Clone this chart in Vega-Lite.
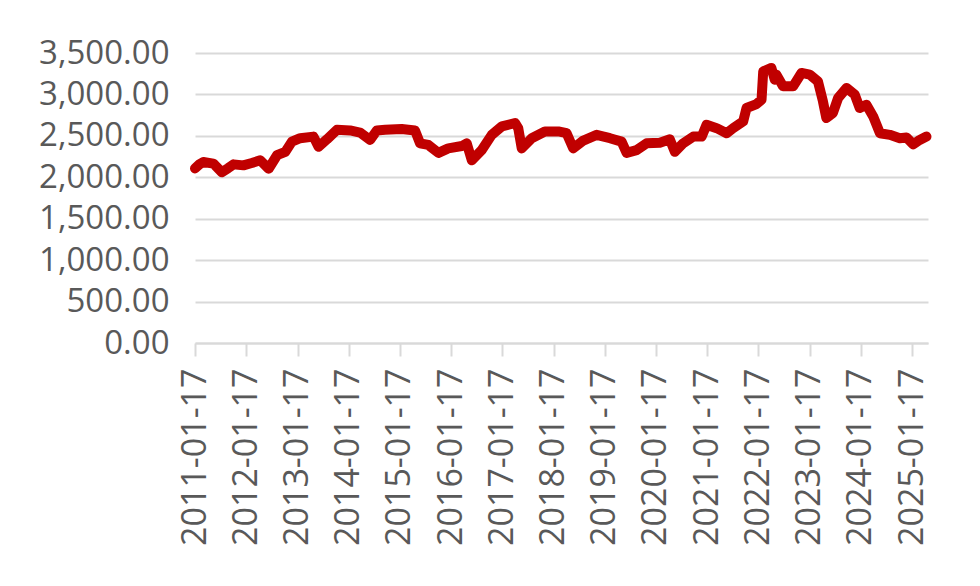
{
  "$schema": "https://vega.github.io/schema/vega-lite/v6.json",
  "width": 733,
  "height": 290,
  "autosize": "none",
  "padding": {"left": 195, "top": 53, "right": 52, "bottom": 243},
  "background": "white",
  "config": {"view": {"stroke": null}, "font": "Open Sans"},
  "data": {"values": [
    {"date": "2011-01-17", "value": 2107},
    {"date": "2011-02-20", "value": 2160},
    {"date": "2011-03-17", "value": 2184},
    {"date": "2011-05-28", "value": 2165},
    {"date": "2011-07-27", "value": 2062},
    {"date": "2011-09-10", "value": 2110},
    {"date": "2011-10-19", "value": 2156},
    {"date": "2011-12-28", "value": 2144},
    {"date": "2012-02-26", "value": 2172},
    {"date": "2012-04-26", "value": 2205},
    {"date": "2012-06-25", "value": 2103},
    {"date": "2012-08-24", "value": 2266},
    {"date": "2012-10-22", "value": 2307},
    {"date": "2012-12-08", "value": 2430},
    {"date": "2013-02-05", "value": 2472},
    {"date": "2013-05-11", "value": 2491},
    {"date": "2013-06-16", "value": 2368},
    {"date": "2013-08-15", "value": 2458},
    {"date": "2013-10-25", "value": 2573},
    {"date": "2014-01-27", "value": 2565},
    {"date": "2014-04-08", "value": 2540},
    {"date": "2014-06-19", "value": 2451},
    {"date": "2014-08-06", "value": 2565},
    {"date": "2014-10-04", "value": 2573},
    {"date": "2015-01-30", "value": 2582},
    {"date": "2015-05-05", "value": 2565},
    {"date": "2015-06-10", "value": 2410},
    {"date": "2015-08-08", "value": 2390},
    {"date": "2015-10-19", "value": 2295},
    {"date": "2015-12-28", "value": 2349},
    {"date": "2016-04-03", "value": 2377},
    {"date": "2016-05-08", "value": 2410},
    {"date": "2016-06-13", "value": 2205},
    {"date": "2016-08-23", "value": 2328},
    {"date": "2016-11-02", "value": 2512},
    {"date": "2017-01-13", "value": 2614},
    {"date": "2017-04-17", "value": 2655},
    {"date": "2017-05-10", "value": 2593},
    {"date": "2017-06-04", "value": 2349},
    {"date": "2017-08-14", "value": 2472},
    {"date": "2017-11-16", "value": 2553},
    {"date": "2018-02-20", "value": 2553},
    {"date": "2018-04-20", "value": 2532},
    {"date": "2018-06-06", "value": 2349},
    {"date": "2018-08-17", "value": 2443},
    {"date": "2018-11-20", "value": 2512},
    {"date": "2019-02-23", "value": 2472},
    {"date": "2019-05-17", "value": 2430},
    {"date": "2019-06-22", "value": 2295},
    {"date": "2019-09-01", "value": 2328},
    {"date": "2019-11-11", "value": 2410},
    {"date": "2020-02-14", "value": 2418},
    {"date": "2020-04-25", "value": 2458},
    {"date": "2020-05-31", "value": 2307},
    {"date": "2020-07-29", "value": 2410},
    {"date": "2020-10-09", "value": 2491},
    {"date": "2020-12-08", "value": 2491},
    {"date": "2021-01-12", "value": 2634},
    {"date": "2021-03-25", "value": 2593},
    {"date": "2021-06-04", "value": 2532},
    {"date": "2021-07-21", "value": 2593},
    {"date": "2021-09-30", "value": 2674},
    {"date": "2021-10-24", "value": 2836},
    {"date": "2022-01-03", "value": 2884},
    {"date": "2022-02-08", "value": 2937},
    {"date": "2022-02-20", "value": 3279},
    {"date": "2022-04-19", "value": 3320},
    {"date": "2022-05-13", "value": 3178},
    {"date": "2022-05-25", "value": 3239},
    {"date": "2022-07-11", "value": 3100},
    {"date": "2022-09-21", "value": 3098},
    {"date": "2022-11-20", "value": 3259},
    {"date": "2023-01-18", "value": 3239},
    {"date": "2023-03-17", "value": 3158},
    {"date": "2023-04-22", "value": 2916},
    {"date": "2023-05-16", "value": 2715},
    {"date": "2023-07-02", "value": 2776},
    {"date": "2023-08-08", "value": 2957},
    {"date": "2023-10-07", "value": 3078},
    {"date": "2023-12-05", "value": 2997},
    {"date": "2024-01-09", "value": 2836},
    {"date": "2024-02-26", "value": 2876},
    {"date": "2024-04-14", "value": 2735},
    {"date": "2024-06-01", "value": 2532},
    {"date": "2024-08-11", "value": 2512},
    {"date": "2024-10-21", "value": 2472},
    {"date": "2024-12-08", "value": 2480},
    {"date": "2025-01-24", "value": 2398},
    {"date": "2025-03-12", "value": 2451},
    {"date": "2025-04-29", "value": 2491}
  ]},
  "mark": {"type": "line", "color": "#C00000", "strokeWidth": 10, "strokeCap": "round", "strokeJoin": "round"},
  "encoding": {
    "x": {
      "field": "date", "type": "temporal",
      "scale": {"type": "utc", "nice": false, "domain": [{"year": 2011, "month": 1, "date": 17, "utc": true}, {"year": 2025, "month": 5, "date": 10, "utc": true}]},
      "axis": {
        "title": null,
        "format": "%Y-%m-%d",
        "values": [
          {"year": 2011, "month": 1, "date": 17, "utc": true},
          {"year": 2012, "month": 1, "date": 17, "utc": true},
          {"year": 2013, "month": 1, "date": 17, "utc": true},
          {"year": 2014, "month": 1, "date": 17, "utc": true},
          {"year": 2015, "month": 1, "date": 17, "utc": true},
          {"year": 2016, "month": 1, "date": 17, "utc": true},
          {"year": 2017, "month": 1, "date": 17, "utc": true},
          {"year": 2018, "month": 1, "date": 17, "utc": true},
          {"year": 2019, "month": 1, "date": 17, "utc": true},
          {"year": 2020, "month": 1, "date": 17, "utc": true},
          {"year": 2021, "month": 1, "date": 17, "utc": true},
          {"year": 2022, "month": 1, "date": 17, "utc": true},
          {"year": 2023, "month": 1, "date": 17, "utc": true},
          {"year": 2024, "month": 1, "date": 17, "utc": true},
          {"year": 2025, "month": 1, "date": 17, "utc": true}
        ],
        "labelAngle": 270,
        "labelFontSize": 34,
        "labelColor": "#595959",
        "labelPadding": 12,
        "labelOverlap": false,
        "labelFlush": false,
        "grid": false,
        "domainColor": "#d9d9d9",
        "domainWidth": 2,
        "tickColor": "#d9d9d9",
        "tickWidth": 2,
        "tickSize": 13
      }
    },
    "y": {
      "field": "value", "type": "quantitative",
      "scale": {"domain": [0, 3500], "nice": false},
      "axis": {
        "title": null,
        "values": [0, 500, 1000, 1500, 2000, 2500, 3000, 3500],
        "format": ",.2f",
        "labelFontSize": 33,
        "labelColor": "#595959",
        "labelPadding": 26,
        "ticks": false,
        "domain": false,
        "grid": true,
        "gridColor": "#d9d9d9",
        "gridWidth": 2
      }
    }
  }
}
